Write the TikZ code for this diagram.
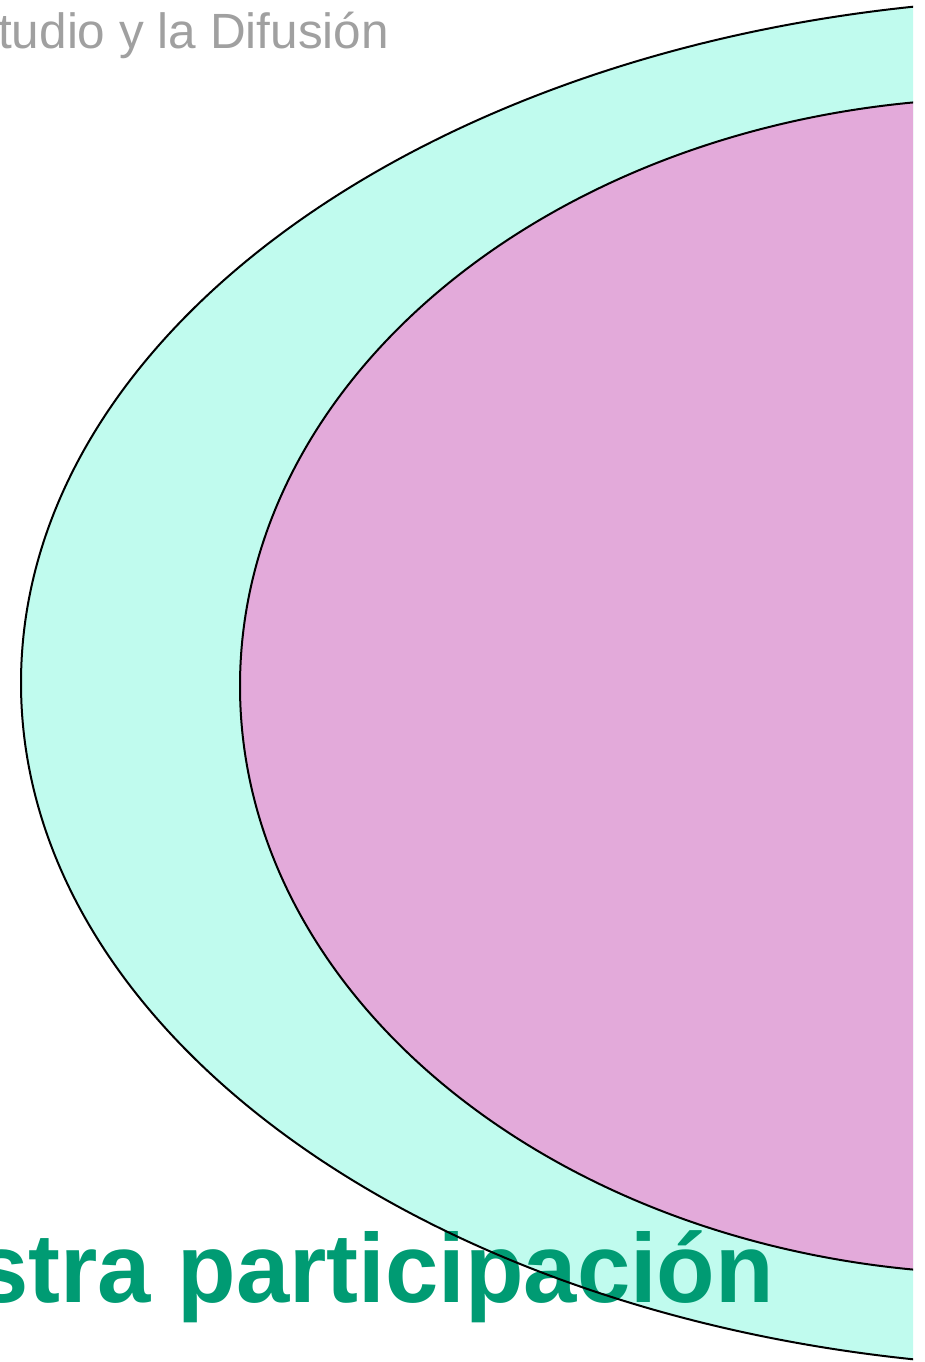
\documentclass[tikz,border=0pt]{standalone}
\usepackage{fontspec}
\setmainfont{Liberation Sans}
\definecolor{mint}{RGB}{192,251,238}
\definecolor{orchid}{RGB}{227,170,218}
\definecolor{titlegreen}{RGB}{0,155,115}
\definecolor{subgray}{RGB}{160,160,160}
\begin{document}
\begin{tikzpicture}[x=1pt,y=-1pt,
  ringline/.style={draw=black,line width=2pt},
  toptext/.style={anchor=base west,inner sep=0pt,text=subgray,font=\fontsize{49.5}{55}\selectfont},
  bottomtext/.style={anchor=base west,inner sep=0pt,text=titlegreen,font=\bfseries\fontsize{98}{110}\selectfont}]
\useasboundingbox (0,0) rectangle (925,1362);
\clip (0,0) rectangle (925,1362);
\begin{scope}
  \clip (0,0) rectangle (913,1362);
  \fill[mint] (1083,683) ellipse [x radius=1062, y radius=685];
  \fill[orchid] (1008,686) ellipse [x radius=768, y radius=588];
\end{scope}
\node[toptext] (sub) at (-2,49) {tudio y la Difusión};
\node[bottomtext] (title) at (-25,1302) {\scalebox{0.978}[1]{stra participación}};
\begin{scope}
  \clip (0,0) rectangle (913,1362);
  \draw[ringline] (1083,683) ellipse [x radius=1062, y radius=685];
  \draw[ringline] (1008,686) ellipse [x radius=768, y radius=588];
\end{scope}
\end{tikzpicture}
\end{document}
